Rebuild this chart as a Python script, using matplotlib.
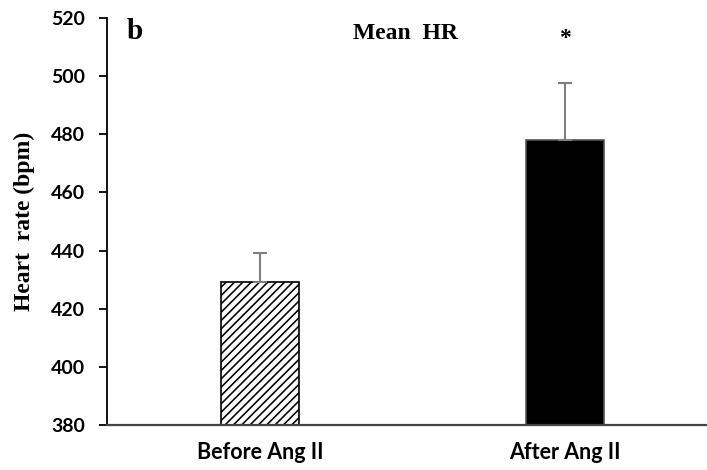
import matplotlib
matplotlib.use("Agg")
import matplotlib.pyplot as plt

# data
groups = ["Before Ang II", "After Ang II"]
means = [429.3, 478.1]
errors = [10.0, 19.6]
yticks = [380, 400, 420, 440, 460, 480, 500, 520]

plt.rcParams["hatch.linewidth"] = 1.15

fig = plt.figure(figsize=(7.07, 4.70), dpi=100)
ax = fig.add_axes([0.1513, 0.0957, 0.8487, 0.866])

x = [0, 1]
bars = ax.bar(x, means, width=0.256, bottom=0, color=["white", "black"],
              edgecolor=["black", "#555555"], linewidth=1.2, zorder=2)
bars[0].set_hatch("////")
ax.errorbar(x, means, yerr=[[0, 0], errors], fmt="none", ecolor="#7f7f7f",
            elinewidth=1.5, capsize=4.7, capthick=1.5, zorder=3)

ax.set_ylim(380, 520)
ax.set_xlim(-0.5016, 1.4656)
ax.set_yticks(yticks)
ax.set_xticks(x)
ax.set_xticklabels(groups, fontfamily="Lato", fontweight="bold", fontsize=15.5)
ax.tick_params(axis="x", length=0, pad=12)
ax.tick_params(axis="y", length=6, width=1.3, direction="out", pad=10)
for lab in ax.get_yticklabels():
    lab.set_fontfamily("Lato")
    lab.set_fontweight("bold")
    lab.set_fontsize(14)

for s in ["top", "right"]:
    ax.spines[s].set_visible(False)
ax.spines["left"].set_linewidth(1.3)
ax.spines["bottom"].set_linewidth(1.6)
ax.spines["bottom"].set_color("#444444")

ax.set_ylabel("Heart  rate (bpm)", fontfamily="Liberation Serif",
              fontweight="bold", fontsize=17, labelpad=11)

ax.text(0.033, 0.967, "b", transform=ax.transAxes, fontfamily="Liberation Serif",
        fontweight="bold", fontsize=21, ha="left", va="center")
ax.text(0.497, 0.961, "Mean  HR", transform=ax.transAxes, fontfamily="Liberation Serif",
        fontweight="bold", fontsize=17, ha="center", va="center")
ax.text(1, 513, "*", fontfamily="Liberation Serif", fontweight="bold",
        fontsize=17, ha="center", va="center")

fig.savefig("out.png", dpi=100)
